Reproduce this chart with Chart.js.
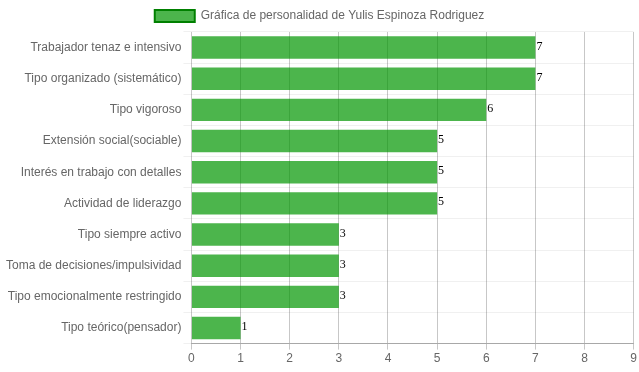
<!DOCTYPE html>
<html>
<head>
<meta charset="utf-8">
<script src="https://cdn.jsdelivr.net/npm/chart.js@4.4.0/dist/chart.umd.min.js"></script>
<style>
  html, body { margin: 0; padding: 0; background: #fff; }
  #wrap { width: 639px; height: 372px; }
</style>
</head>
<body>
<div id="wrap"><canvas id="myChart" width="639" height="372"></canvas></div>
<script>
const rasgos = [
    'Trabajador tenaz e intensivo',
    'Tipo organizado (sistemático)',
    'Tipo vigoroso',
    'Extensión social(sociable)',
    'Interés en trabajo con detalles',
    'Actividad de liderazgo',
    'Tipo siempre activo',
    'Toma de decisiones/impulsividad',
    'Tipo emocionalmente restringido',
    'Tipo teórico(pensador)'
];
const puntajes = [7, 7, 6, 5, 5, 5, 3, 3, 3, 1];
const ticksX = [0, 1, 2, 3, 4, 5, 6, 7, 8, 9];

// etiquetas de valor al final de cada barra
const valorPlugin = {
    id: 'valorPlugin',
    afterDatasetsDraw(chart) {
        let c = chart.ctx;
        let meta = chart.getDatasetMeta(0);
        c.save();
        c.font = '12px "Liberation Serif", "Times New Roman", serif';
        c.fillStyle = '#000';
        c.textAlign = 'left';
        c.textBaseline = 'alphabetic';
        meta.data.forEach(function (bar, i) {
            c.fillText(puntajes[i], bar.x + 1, bar.y + 2);
        });
        c.restore();
    }
};

Chart.defaults.font.family = '"Liberation Sans", Arial, sans-serif';
Chart.defaults.font.size = 12;
Chart.defaults.color = '#666';

let ctx = document.getElementById('myChart').getContext('2d');
let chart = new Chart(ctx, {
    type: 'bar',
    data: {
        labels: rasgos,
        datasets: [{
            label: 'Gráfica de personalidad de Yulis Espinoza Rodriguez',
            data: puntajes,
            backgroundColor: 'rgba(0, 150, 0, 0.7)',
            borderColor: 'rgba(0, 128, 0, 1)',
            borderWidth: 0
        }]
    },
    options: {
        indexAxis: 'y',
        responsive: false,
        animation: false,
        layout: { padding: { left: 4, right: 4, bottom: 4 } },
        plugins: {
            legend: {
                display: true,
                labels: {
                    boxWidth: 40,
                    boxHeight: 12,
                    padding: 10,
                    generateLabels: function (chart) {
                        let ds = chart.data.datasets[0];
                        return [{
                            text: ds.label,
                            fillStyle: ds.backgroundColor,
                            strokeStyle: ds.borderColor,
                            lineWidth: 2,
                            datasetIndex: 0,
                            fontColor: '#666'
                        }];
                    }
                }
            },
            tooltip: { enabled: false }
        },
        scales: {
            x: {
                min: 0,
                max: 9,
                afterBuildTicks: function (axis) {
                    axis.ticks = ticksX.map(v => ({ value: v }));
                },
                grid: {
                    color: 'rgba(0,0,0,0.22)',
                    tickLength: 6
                },
                border: { color: 'rgba(0,0,0,0.3)' },
                ticks: { padding: 2 }
            },
            y: {
                grid: {
                    color: 'rgba(0,0,0,0.06)',
                    offset: true,
                    tickLength: 8
                },
                border: { display: false },
                ticks: { padding: 2 }
            }
        }
    },
    plugins: [valorPlugin]
});
</script>
</body>
</html>
